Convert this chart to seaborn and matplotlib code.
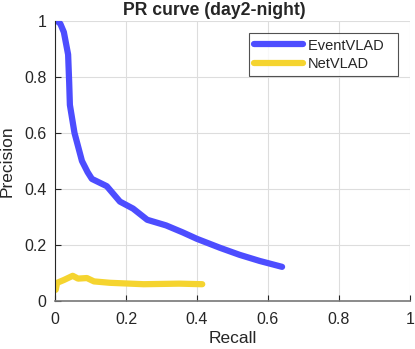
import numpy as np
import pandas as pd
import seaborn as sns
import matplotlib.pyplot as plt

# values
event_recall = [0.006, 0.015, 0.025, 0.037, 0.040, 0.042, 0.055, 0.076, 0.092, 0.104, 0.146,
                0.183, 0.220, 0.260, 0.313, 0.360, 0.400, 0.465, 0.520, 0.577, 0.640]
event_precision = [1.0, 0.99, 0.96, 0.88, 0.78, 0.70, 0.60, 0.50, 0.46, 0.436, 0.41,
                   0.355, 0.33, 0.29, 0.27, 0.245, 0.222, 0.19, 0.165, 0.143, 0.122]
net_recall = [0.002, 0.006, 0.025, 0.050, 0.065, 0.090, 0.110, 0.155, 0.250, 0.350, 0.415]
net_precision = [0.04, 0.065, 0.075, 0.09, 0.08, 0.082, 0.07, 0.065, 0.06, 0.062, 0.06]

df = pd.concat([
    pd.DataFrame({'Recall': event_recall, 'Precision': event_precision, 'Method': 'EventVLAD  '}),
    pd.DataFrame({'Recall': net_recall, 'Precision': net_precision, 'Method': 'NetVLAD'}),
])

sns.set_style('white')
plt.rcParams['font.family'] = ['Liberation Sans', 'DejaVu Sans']

fig = plt.figure(figsize=(4.15, 3.49), dpi=100)
ax = fig.add_axes([0.1325, 0.1375, 0.855, 0.8025])

sns.lineplot(data=df, x='Recall', y='Precision', hue='Method', sort=False,
             palette={'EventVLAD  ': '#4d4dff', 'NetVLAD': '#f5d42f'},
             linewidth=4.5, ax=ax, estimator=None)

ax.set_xlim(0, 1)
ax.set_ylim(0, 1)
ticks = [0, 0.2, 0.4, 0.6, 0.8, 1]
ticklabels = ['0', '0.2', '0.4', '0.6', '0.8', '1']
ax.set_xticks(ticks)
ax.set_xticklabels(ticklabels)
ax.set_yticks(ticks)
ax.set_yticklabels(ticklabels)
ax.grid(True, color='#dddddd', linewidth=0.8)
ax.tick_params(axis='both', labelsize=11.5, colors='#262626', direction='in', length=4,
               width=0.8, bottom=True, left=True)
ax.tick_params(axis='x', pad=8)
ax.tick_params(axis='y', pad=6)
for s in ['top', 'right']:
    ax.spines[s].set_visible(False)
for s in ['left', 'bottom']:
    ax.spines[s].set_color('#262626')
    ax.spines[s].set_linewidth(0.8)
ax.spines['bottom'].set_color('#777777')
ax.spines['bottom'].set_linewidth(1.2)

ax.set_xlabel('Recall', fontsize=12.5, color='#262626')
ax.set_ylabel('Precision', fontsize=12.5, color='#262626')
ax.xaxis.set_label_coords(0.5, -0.107)
ax.yaxis.set_label_coords(-0.113, 0.5)
ax.set_title('PR curve (day2-night)', fontsize=12.7, fontweight='bold', pad=4, x=0.448)

leg = ax.legend(loc='upper right', bbox_to_anchor=(0.966, 0.957), fontsize=10.5,
                frameon=True, fancybox=False, handlelength=3.36, borderpad=0.38,
                labelspacing=0.3, handletextpad=0.35, borderaxespad=0)
leg.get_frame().set_edgecolor('#262626')
leg.get_frame().set_linewidth(0.8)
for line in leg.get_lines():
    line.set_linewidth(4.5)

fig.savefig('out.png', dpi=100)
